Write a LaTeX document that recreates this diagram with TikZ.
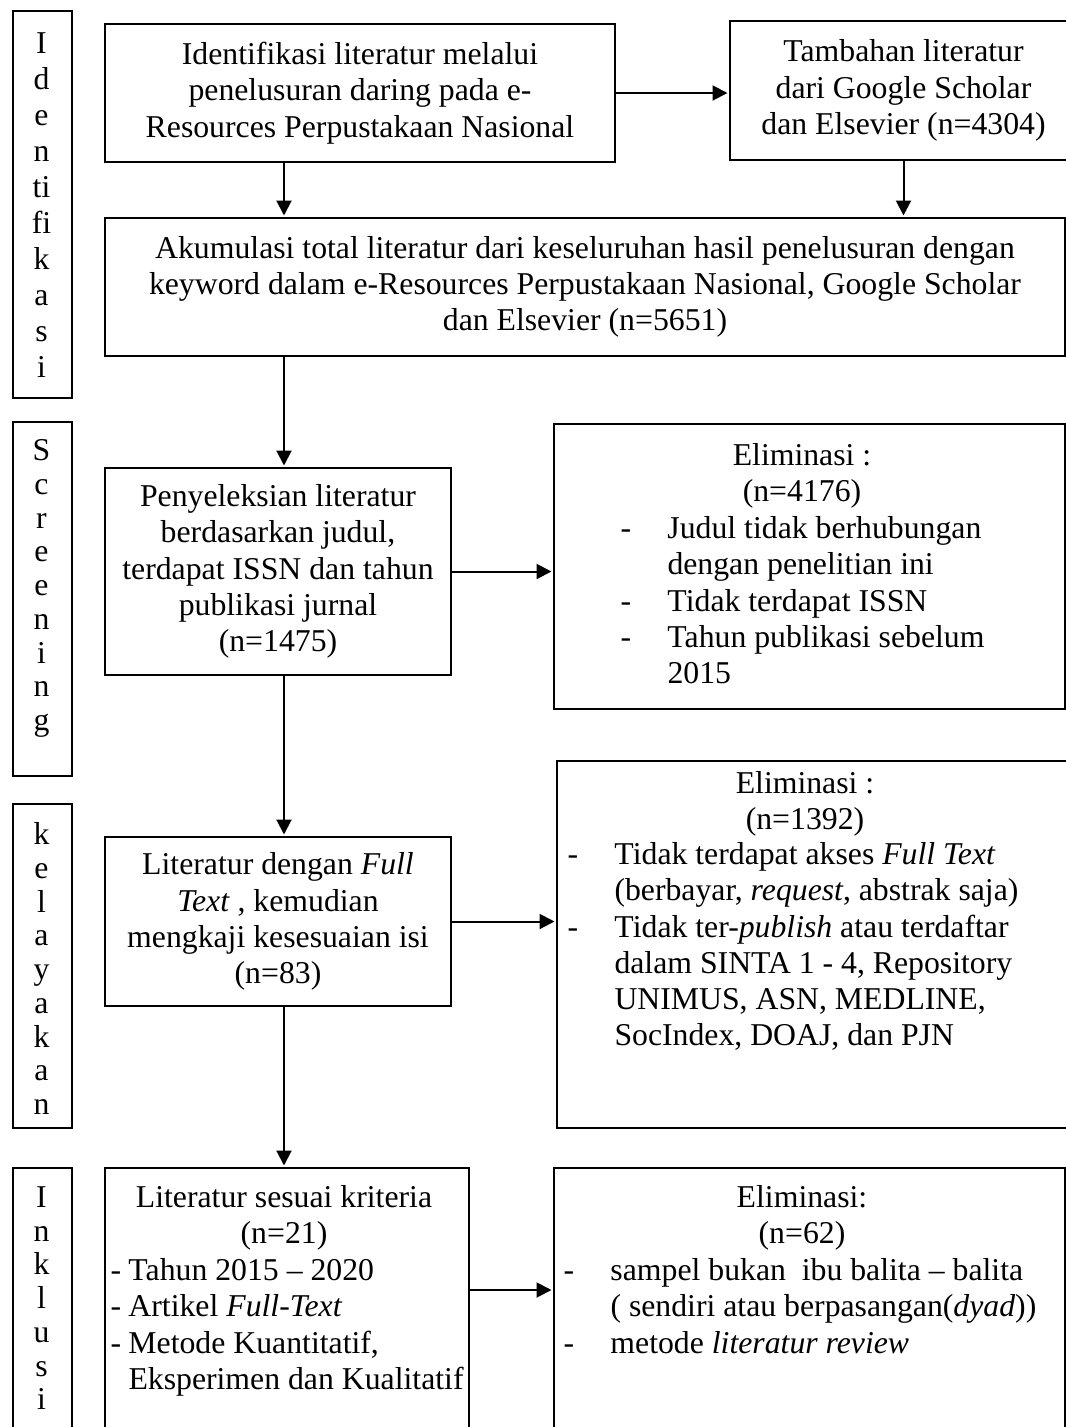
\documentclass[tikz,border=0pt]{standalone}
\usepackage{fontspec}
\setmainfont{Liberation Serif}
\usetikzlibrary{arrows.meta,positioning}
\newlength\px
\setlength\px{0.4pt}
\newcommand{\eldash}{\makebox[47\px][l]{-}}
\newcommand{\elskip}{\hspace*{47\px}}
\tikzset{
  pr text/.style={font=\fontsize{12.7}{14.5}\selectfont, text=black},
  pr box/.style={draw=black, line width=0.8pt, inner sep=0pt, align=center, anchor=north west},
  pr stage/.style={align=center, inner sep=0pt, anchor=north, font=\fontsize{12.7}{13.5}\selectfont},
  pr head/.style={align=center, inner sep=0pt, anchor=north},
  pr list/.style={align=left, inner sep=0pt, anchor=north west},
  pr arrow/.style={-{Triangle[length=6pt,width=6pt]}, line width=0.8pt, shorten >=0.6pt}
}
\begin{document}
\begin{tikzpicture}[pr text, x=0.4pt, y=-0.4pt]
  \useasboundingbox (0,0) rectangle (1066,1427);
  \clip (0,0) rectangle (1066,1427);
  % stage labels on the left
  \node[pr box, minimum width=59\px, minimum height=387\px] (lid) at (12,10) {};
  \node[pr box, minimum width=59\px, minimum height=354\px] (lsc) at (12,421) {};
  \node[pr box, minimum width=59\px, minimum height=324\px] (lke) at (12,803) {};
  \node[pr box, minimum width=59\px, minimum height=320\px] (lin) at (12,1167) {};
  \node[pr stage, font=\fontsize{12.7}{14.4}\selectfont] (lid text) at (41.5,32)
    {I\\d\\e\\n\\ti\\f{}i\\k\\a\\s\\i};
  \node[pr stage] (lsc text) at (41.5,439) {S\\c\\r\\e\\e\\n\\i\\n\\g};
  \node[pr stage] (lke text) at (41.5,822) {k\\e\\l\\a\\y\\a\\k\\a\\n};
  \node[pr stage] (lin text) at (41.5,1186) {I\\n\\k\\l\\u\\s\\i};
  % main column
  \node[pr box, minimum width=510\px, minimum height=138\px] (ident) at (104,23)
    {Identifikasi literatur melalui\\penelusuran daring pada e-\\Resources Perpustakaan Nasional};
  \node[pr box, minimum width=347\px, minimum height=139\px] (tamb) at (729,20)
    {Tambahan literatur\\dari Google Scholar\\dan Elsevier (n=4304)};
  \node[pr box, minimum width=960\px, minimum height=138\px] (akum) at (104,217)
    {Akumulasi total literatur dari keseluruhan hasil penelusuran dengan\\
     keyword dalam e-Resources Perpustakaan Nasional, Google Scholar\\
     dan Elsevier (n=5651)};
  \node[pr box, minimum width=346\px, minimum height=207\px] (seleksi) at (104,467)
    {Penyeleksian literatur\\berdasarkan judul,\\terdapat ISSN dan tahun\\publikasi jurnal\\(n=1475)};
  \node[pr box, minimum width=346\px, minimum height=169\px] (fulltext) at (104,836)
    {Literatur dengan \textit{Full}\\\textit{Text} , kemudian\\mengkaji kesesuaian isi\\(n=83)};
  \node[pr box, minimum width=364\px, minimum height=320\px] (sesuai) at (104,1167) {};
  \node[pr head] (sesuai head) at (284,1185) {Literatur sesuai kriteria\\(n=21)};
  \node[pr list] (sesuai list) at (110,1258)
    {\makebox[18\px][l]{-}Tahun 2015 -- 2020\\
     \makebox[18\px][l]{-}Artikel \textit{Full-Text}\\
     \makebox[18\px][l]{-}Metode Kuantitatif,\\
     \hspace*{18\px}Eksperimen dan Kualitatif};
  % elimination column
  \node[pr box, minimum width=511\px, minimum height=285\px] (elim1) at (553,423) {};
  \node[pr head] (elim1 head) at (802,443) {Eliminasi :\\(n=4176)};
  \node[pr list] (elim1 list) at (620,516)
    {\eldash Judul tidak berhubungan\\
     \elskip dengan penelitian ini\\
     \eldash Tidak terdapat ISSN\\
     \eldash Tahun publikasi sebelum\\
     \elskip 2015};
  \node[pr box, minimum width=520\px, minimum height=367\px] (elim2) at (556,760) {};
  \node[pr head] (elim2 head) at (805,771) {Eliminasi :\\(n=1392)};
  \node[pr list] (elim2 list) at (567,842)
    {\eldash Tidak terdapat akses \textit{Full Text}\\
     \elskip (berbayar, \textit{request}, abstrak saja)\\
     \eldash Tidak ter-\textit{publish} atau terdaftar\\
     \elskip dalam SINTA 1 - 4, Repository\\
     \elskip UNIMUS, ASN, MEDLINE,\\
     \elskip SocIndex, DOAJ, dan PJN};
  \node[pr box, minimum width=511\px, minimum height=320\px] (elim3) at (553,1167) {};
  \node[pr head] (elim3 head) at (802,1185) {Eliminasi:\\(n=62)};
  \node[pr list] (elim3 list) at (563,1258)
    {\eldash sampel bukan\ \ ibu balita -- balita\\
     \elskip ( sendiri atau berpasangan(\textit{dyad}))\\
     \eldash metode \textit{literatur review}};
  % connectors
  \coordinate (spine) at (284,0);
  \coordinate (incl) at (0,1290);
  \draw[pr arrow] (ident.east) -- (ident.east -| tamb.west);
  \draw[pr arrow] (ident.south -| spine) -- (akum.north -| spine);
  \draw[pr arrow] (tamb.south) -- (tamb.south |- akum.north);
  \draw[pr arrow] (akum.south -| spine) -- (seleksi.north -| spine);
  \draw[pr arrow] (seleksi.east) -- (seleksi.east -| elim1.west);
  \draw[pr arrow] (seleksi.south -| spine) -- (fulltext.north -| spine);
  \draw[pr arrow] (fulltext.east) -- (fulltext.east -| elim2.west);
  \draw[pr arrow] (fulltext.south -| spine) -- (sesuai.north -| spine);
  \draw[pr arrow] (sesuai.east |- incl) -- (elim3.west |- incl);
\end{tikzpicture}
\end{document}
